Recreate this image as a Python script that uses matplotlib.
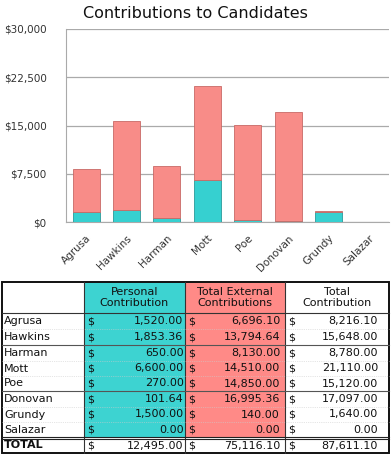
import matplotlib.pyplot as plt
from matplotlib.patches import Rectangle
from matplotlib.ticker import FuncFormatter

names = ["Agrusa", "Hawkins", "Harman", "Mott", "Poe", "Donovan", "Grundy", "Salazar"]
personal = [1520.00, 1853.36, 650.00, 6600.00, 270.00, 101.64, 1500.00, 0.00]
external = [6696.10, 13794.64, 8130.00, 14510.00, 14850.00, 16995.36, 140.00, 0.00]
total = [8216.10, 15648.00, 8780.00, 21110.00, 15120.00, 17097.00, 1640.00, 0.00]
sums = [12495.00, 75116.10, 87611.10]
yticks = [0, 7500, 15000, 22500, 30000]

cyan = "#36d0d0"
salmon = "#f88c88"
hdr_cyan = "#3dd3d1"
hdr_red = "#ff8a87"

W, H = 391, 454
fig = plt.figure(figsize=(W / 100, H / 100), dpi=100)

# --- bar chart
ax = fig.add_axes([66 / W, 1 - 222 / H, 323 / W, 193 / H])
x = range(len(names))
ax.bar(x, personal, width=0.67, color=cyan, edgecolor="#2a9a9a", linewidth=0.6, zorder=3)
ax.bar(x, external, bottom=personal, width=0.67, color=salmon, edgecolor="#c86a66",
       linewidth=0.6, zorder=3)
ax.set_xlim(-0.5, len(names) - 0.5)
ax.set_ylim(0, 30000)
ax.set_yticks(yticks)
ax.yaxis.set_major_formatter(FuncFormatter(lambda v, p: f"${v:,.0f}"))
ax.set_xticks(list(x))
ax.set_xticklabels(names, rotation=45, ha="right", rotation_mode="anchor")
ax.tick_params(axis="both", length=0, labelsize=7.5, colors="#333333")
ax.tick_params(axis="x", pad=8)
ax.tick_params(axis="y", pad=14)
ax.grid(axis="y", color="#aaaaaa", linewidth=0.9, zorder=0)
for s in ["top", "right"]:
    ax.spines[s].set_visible(False)
for s in ["left", "bottom"]:
    ax.spines[s].set_color("#aaaaaa")
fig.text(195 / W, 1 - 13 / H, "Contributions to Candidates", ha="center", va="center",
         fontsize=11.5, color="#111111")

# --- table
tx = fig.add_axes([0, 0, 1, 1])
tx.set_xlim(0, W)
tx.set_ylim(H, 0)
tx.axis("off")

cols = [2, 84, 185, 285, 389]
num_pad = [1.5, 5, 11]
top, hdr_bot = 282, 313
rows = [313, 329, 345, 361, 376, 391, 407, 422, 438, 453]

tx.add_patch(Rectangle((cols[1], top), cols[2] - cols[1], rows[-2] - top, color=hdr_cyan, lw=0))
tx.add_patch(Rectangle((cols[2], top), cols[3] - cols[2], rows[-2] - top, color=hdr_red, lw=0))

headers = ["Personal\nContribution", "Total External\nContributions", "Total\nContribution"]
for i, h in enumerate(headers):
    tx.text((cols[i + 1] + cols[i + 2]) / 2, (top + hdr_bot) / 2, h, ha="center", va="center",
            fontsize=8, color="#111111", linespacing=1.1)

labels = names + ["TOTAL"]
vals = [list(r) for r in zip(personal, external, total)] + [sums]
for r, lab in enumerate(labels):
    yc = (rows[r] + rows[r + 1]) / 2
    bold = lab == "TOTAL"
    tx.text(cols[0] + 2, yc, lab, ha="left", va="center", fontsize=8,
            fontweight="bold" if bold else "normal", color="#111111")
    for c in range(3):
        tx.text(cols[c + 1] + 3, yc, "$", ha="left", va="center", fontsize=8, color="#111111")
        tx.text(cols[c + 2] - num_pad[c], yc, f"{vals[r][c]:,.2f}", ha="right", va="center",
                fontsize=8, color="#111111")

# grid lines
for xv in cols[1:-1]:
    tx.plot([xv, xv], [top, rows[-1]], color="#333333", lw=0.8)
tx.plot([cols[0], cols[-1]], [hdr_bot, hdr_bot], color="#333333", lw=0.8)
for i in [1, 3, 4, 6, 7]:
    tx.plot([cols[0], cols[-1]], [rows[i], rows[i]], color="#cccccc", lw=0.5, ls=":")
for i in [2, 5]:
    tx.plot([cols[0], cols[-1]], [rows[i], rows[i]], color="#555555", lw=0.8)
tx.plot([cols[0], cols[-1]], [rows[8] - 1, rows[8] - 1], color="#222222", lw=0.8)
tx.plot([cols[0], cols[-1]], [rows[8] + 1, rows[8] + 1], color="#222222", lw=0.8)
tx.add_patch(Rectangle((cols[0], top), cols[-1] - cols[0], rows[-1] - top, fill=False,
                       edgecolor="#111111", lw=1.4))

fig.savefig("out.png", dpi=100)
